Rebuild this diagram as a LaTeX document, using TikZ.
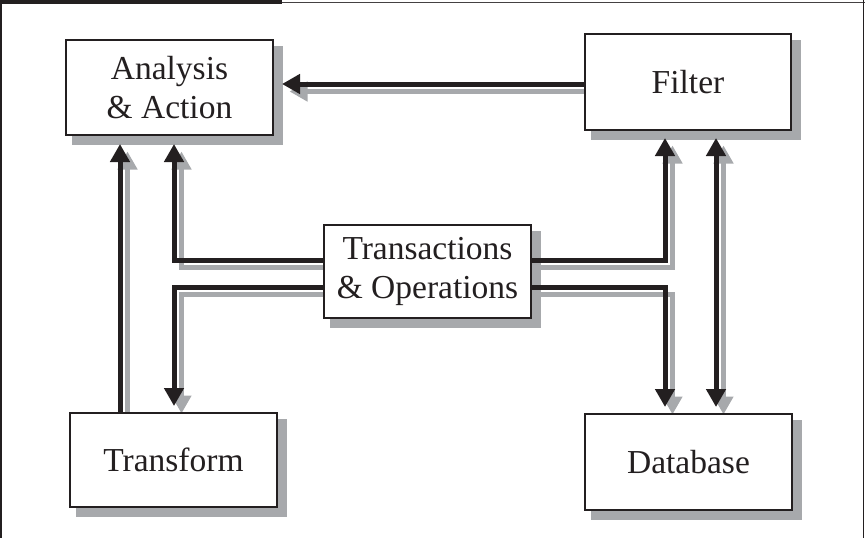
\documentclass[tikz,border=0pt]{standalone}
\usepackage{fontspec}
\setmainfont{Liberation Serif}
\usetikzlibrary{arrows.meta}
\definecolor{ink}{HTML}{231F20}
\definecolor{shadowgray}{HTML}{A7A9AC}
\pgfdeclarelayer{back}
\pgfsetlayers{back,main}
\begin{document}
\begin{tikzpicture}[x=1pt,y=-1pt,
  box/.style={draw=ink, line width=2pt, fill=white, inner sep=0pt, align=center,
    text=ink, font=\fontsize{33.5}{39}\selectfont},
  conn/.style={line width=5pt, -{Triangle[length=18pt,width=19pt]}},
  dconn/.style={line width=5pt, {Triangle[length=18pt,width=19pt]}-{Triangle[length=18pt,width=19pt]}},
  shadowed/.style={transform canvas={xshift=7.5pt,yshift=-7.5pt}}]
\useasboundingbox (0,0) rectangle (865,538);
% frame
\fill[ink] (0,0) rectangle (282,4.3);
\draw[ink!85, line width=1pt] (282,2.8) -- (865,2.8);
\draw[ink, line width=1.5pt] (1.2,0) -- (1.2,538);
\draw[ink, line width=1.5pt] (863.3,0) -- (863.3,538);
% boxes
\node[box, minimum width=207pt, minimum height=95pt] (a) at (169.5,87.5) {Analysis\\\& Action};
\node[box, minimum width=206pt, minimum height=96pt] (f) at (688,82) {Filter};
\node[box, minimum width=207pt, minimum height=94pt] (tr) at (173.5,460) {Transform};
\node[box, minimum width=207pt, minimum height=96pt] (d) at (688.5,462) {Database};
\node[box, minimum width=207pt, minimum height=93pt] (t) at (427.5,271.5) {Transactions\\\& Operations};
\begin{pgfonlayer}{back}
  \foreach \n in {a,f,tr,d,t}{
    \fill[shadowgray] ([shift={(7,7)}]\n.north west) rectangle ([shift={(9,9)}]\n.south east);
  }
\end{pgfonlayer}
% connectors: shadow copies on back layer, black on main
\begin{pgfonlayer}{back}
\begin{scope}[draw=shadowgray, fill=shadowgray, color=shadowgray]
  \draw[conn, shadowed] ([shift={(0,2)}]f.west) -- ([shift={(8,-3.5)}]a.east);
  \draw[conn, shadowed] ([shift={(-53.5,0)}]tr.north) -- ([shift={(-49.5,8)}]a.south);
  \draw[conn, shadowed] ([shift={(0,-11.5)}]t.west) -| ([shift={(4.5,8)}]a.south);
  \draw[conn, shadowed] ([shift={(0,15.5)}]t.west) -| ([shift={(0.5,-6)}]tr.north);
  \draw[conn, shadowed] ([shift={(0,-11.5)}]t.east) -| ([shift={(-23,7)}]f.south);
  \draw[conn, shadowed] ([shift={(0,15.5)}]t.east) -| ([shift={(-23.5,-6)}]d.north);
  \draw[dconn, shadowed] ([shift={(28,7)}]f.south) -- ([shift={(27.5,-6)}]d.north);
\end{scope}
\end{pgfonlayer}
\begin{scope}[color=ink]
  \draw[conn] ([shift={(0,2)}]f.west) -- ([shift={(8,-3.5)}]a.east);
  \draw[conn] ([shift={(-53.5,0)}]tr.north) -- ([shift={(-49.5,8)}]a.south);
  \draw[conn] ([shift={(0,-11.5)}]t.west) -| ([shift={(4.5,8)}]a.south);
  \draw[conn] ([shift={(0,15.5)}]t.west) -| ([shift={(0.5,-6)}]tr.north);
  \draw[conn] ([shift={(0,-11.5)}]t.east) -| ([shift={(-23,7)}]f.south);
  \draw[conn] ([shift={(0,15.5)}]t.east) -| ([shift={(-23.5,-6)}]d.north);
  \draw[dconn] ([shift={(28,7)}]f.south) -- ([shift={(27.5,-6)}]d.north);
\end{scope}
\end{tikzpicture}
\end{document}
